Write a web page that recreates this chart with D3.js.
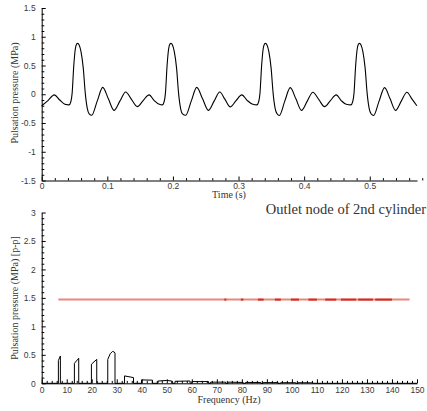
<!DOCTYPE html>
<html>
<head>
<meta charset="utf-8">
<script src="https://cdn.jsdelivr.net/npm/d3@7"></script>
<style>
  body { margin: 0; background: #fff; }
  .tick text { font-family: "Liberation Sans", Arial, sans-serif; font-size: 8.5px; fill: #3a3a3a; }
  .title { font-family: "Liberation Serif", "Times New Roman", serif; fill: #333; }
</style>
</head>
<body>
<svg id="chart" width="427" height="411"></svg>
<script>
// time history (s, MPa)
var timeS = [0,0.0095,0.0192,0.0275,0.0355,0.0385,0.0416,0.0444,0.0464,0.0489,0.0514,0.0534,0.0549,0.0569,0.0599,0.0634,0.0664,0.0694,0.0724,0.0762,
  0.0846,0.093,0.1016,0.1102,0.1191,0.128,0.1368,0.1457,0.1546,0.1636,0.1715,0.1793,0.1838,
  0.1866,0.1886,0.1911,0.1936,0.1956,0.1971,0.1991,0.2021,0.2056,0.2086,0.2116,0.2146,0.2195,
  0.2279,0.2363,0.2452,0.254,0.2627,0.2714,0.2794,0.2873,0.2962,0.305,0.3134,0.3218,0.3279,
  0.3307,0.3327,0.3352,0.3377,0.3397,0.3412,0.3432,0.3462,0.3497,0.3527,0.3557,0.3587,0.3622,
  0.3705,0.3788,0.3874,0.396,0.4047,0.4133,0.4222,0.4311,0.44,0.4489,0.4565,0.4642,0.4712,
  0.474,0.476,0.4785,0.481,0.483,0.4845,0.4865,0.4895,0.493,0.496,0.499,0.502,0.5058,
  0.5142,0.5226,0.531,0.5393,0.548,0.5566,0.5642,0.5718];
var pulsation = [-0.20,-0.11,-0.01,-0.10,-0.175,-0.18,-0.185,-0.13,0.02,0.50,0.80,0.875,0.885,0.86,0.74,0.45,0.02,-0.24,-0.34,-0.365,
  -0.12,0.12,-0.08,-0.28,-0.12,0.04,-0.09,-0.215,-0.11,-0.01,-0.11,-0.175,-0.185,
  -0.13,0.02,0.50,0.80,0.875,0.885,0.86,0.74,0.45,0.02,-0.24,-0.34,-0.365,
  -0.12,0.12,-0.08,-0.28,-0.12,0.04,-0.09,-0.22,-0.11,-0.01,-0.11,-0.175,-0.185,
  -0.13,0.02,0.50,0.80,0.875,0.885,0.86,0.74,0.45,0.02,-0.24,-0.34,-0.37,
  -0.12,0.115,-0.08,-0.28,-0.12,0.035,-0.09,-0.215,-0.11,-0.01,-0.11,-0.175,-0.185,
  -0.13,0.02,0.50,0.80,0.875,0.885,0.86,0.74,0.45,0.02,-0.24,-0.34,-0.37,
  -0.12,0.115,-0.08,-0.28,-0.12,0.035,-0.08,-0.20];

// spectrum (Hz, MPa p-p)
var specFreq = [0,6.67,6.67,7.47,7.47,13.07,13.07,14.8,14.8,19.87,19.87,22,22,26.4,26.4,27.4,28.3,29,29.3,29.3,
  33.1,33.1,36.7,36.7,39.9,39.9,44.3,44.3,46.5,46.5,50,52,52,53.3,53.3,59.3,59.3,60,60,66.7,66.7,
  67.5,67.5,73.5,73.5,74.5,74.5,80.5,80.5,81.5,81.5,87.5,87.5,88.5,88.5,94.5,94.5,95.5,95.5,101.5,101.5,
  102.5,102.5,108.5,108.5,150];
var specAmp = [0,0,0.40,0.48,0,0,0.35,0.44,0,0,0.335,0.42,0,0,0.42,0.52,0.56,0.55,0.53,0,
  0,0.13,0.10,0,0,0.06,0.055,0,0,0.04,0.05,0.04,0,0,0.035,0.04,0,0,0.03,0.03,0,
  0,0.02,0.02,0,0,0.02,0.015,0,0,0.015,0.015,0,0,0.012,0.012,0,0,0.01,0.01,0,
  0,0.01,0.008,0,0];

// allowable level line
var limitFreq = [6.67, 147];
var limitAmp = 1.47;
var limitDarkStart = [73.0,79.6,86.4,93.2,99.6,106.6,113.3,119.6,126.5,133.3];
var limitDarkEnd   = [73.8,80.6,88.7,95.6,102.8,110,117.7,125.7,132.4,140];

var timeTicks = [0,0.1,0.2,0.3,0.4,0.5];
var pulseTicks = [-1.5,-1,-0.5,0,0.5,1,1.5];
var freqTicks = [0,10,20,30,40,50,60,70,80,90,100,110,120,130,140,150];
var ampTicks = [0,0.5,1,1.5,2,2.5,3];

var svg = d3.select("#chart");

var x1 = d3.scaleLinear().domain([0, 0.572]).range([41.7, 417]);
var y1 = d3.scaleLinear().domain([-1.5, 1.5]).range([180.5, 8]);
var x2 = d3.scaleLinear().domain([0, 150]).range([41.7, 417]);
var y2 = d3.scaleLinear().domain([0, 3]).range([383.3, 212.5]);

function minorTicks(scale, step, majors) {
  var d = scale.domain();
  return d3.range(d[0], d[1] + step / 2, step).filter(function (v) {
    return !majors.some(function (m) { return Math.abs(m - v) < step / 4; });
  });
}

function drawAxes(x, y, xTicks, yTicks, xStep, yStep, xPad) {
  var y0 = y.range()[0], xl = x.range()[0];
  // minor ticks first
  svg.append("g").attr("transform", "translate(0," + y0 + ")")
    .call(d3.axisBottom(x).tickValues(minorTicks(x, xStep, xTicks)).tickSize(-2.4).tickSizeOuter(0).tickFormat(""))
    .call(function (g) { g.select(".domain").remove(); });
  svg.append("g").attr("transform", "translate(" + xl + ",0)")
    .call(d3.axisLeft(y).tickValues(minorTicks(y, yStep, yTicks)).tickSize(-2.6).tickSizeOuter(0).tickFormat(""))
    .call(function (g) { g.select(".domain").remove(); });

  svg.append("g").attr("transform", "translate(0," + y0 + ")")
    .call(d3.axisBottom(x).tickValues(xTicks).tickSize(-4).tickSizeOuter(0).tickPadding(xPad)
      .tickFormat(function (d) { return String(d); }));
  svg.append("g").attr("transform", "translate(" + xl + ",0)")
    .call(d3.axisLeft(y).tickValues(yTicks).tickSize(-4).tickSizeOuter(0).tickPadding(6)
      .tickFormat(function (d) { return String(d); }));
}

drawAxes(x1, y1, timeTicks, pulseTicks, 0.02, 0.1, 2);
drawAxes(x2, y2, freqTicks, ampTicks, 2, 0.1, 4);
svg.selectAll(".domain, .tick line").attr("stroke", "#000");

// upper panel: time history
var series = timeS.map(function (t, i) { return [t, pulsation[i]]; });
svg.append("path")
  .datum(series)
  .attr("fill", "none")
  .attr("stroke", "#000")
  .attr("stroke-width", 1.1)
  .attr("d", d3.line()
    .x(function (d) { return x1(d[0]); })
    .y(function (d) { return y1(d[1]); })
    .curve(d3.curveMonotoneX));

// lower panel: limit line
svg.append("line")
  .attr("x1", x2(limitFreq[0])).attr("x2", x2(limitFreq[1]))
  .attr("y1", y2(limitAmp)).attr("y2", y2(limitAmp))
  .attr("stroke", "#e8877e").attr("stroke-width", 2);
svg.append("g").selectAll("line")
  .data(limitDarkStart)
  .enter().append("line")
  .attr("x1", function (d) { return x2(d); })
  .attr("x2", function (d, i) { return x2(limitDarkEnd[i]); })
  .attr("y1", y2(limitAmp)).attr("y2", y2(limitAmp))
  .attr("stroke", "#d42a20").attr("stroke-width", 2);

// lower panel: spectrum
var spec = specFreq.map(function (f, i) { return [f, specAmp[i]]; });
svg.append("path")
  .datum(spec)
  .attr("fill", "none")
  .attr("stroke", "#000")
  .attr("stroke-width", 1)
  .attr("d", d3.line()
    .x(function (d) { return x2(d[0]); })
    .y(function (d) { return y2(d[1]); }));

// titles
svg.append("text").attr("class", "title")
  .attr("x", 229).attr("y", 198).attr("text-anchor", "middle")
  .style("font-size", "10px").text("Time (s)");
svg.append("text").attr("class", "title")
  .attr("transform", "translate(18,93) rotate(-90)").attr("text-anchor", "middle")
  .style("font-size", "10px").text("Pulsation pressure (MPa)");
svg.append("text").attr("class", "title")
  .attr("x", 229).attr("y", 403).attr("text-anchor", "middle")
  .style("font-size", "10px").text("Frequency (Hz)");
svg.append("text").attr("class", "title")
  .attr("transform", "translate(18,298) rotate(-90)").attr("text-anchor", "middle")
  .style("font-size", "10px").text("Pulsation pressure (MPa) [p-p]");
svg.append("text").attr("class", "title")
  .attr("x", 426).attr("y", 214).attr("text-anchor", "end")
  .style("font-size", "14.5px").text("Outlet node of 2nd cylinder");
</script>
</body>
</html>
